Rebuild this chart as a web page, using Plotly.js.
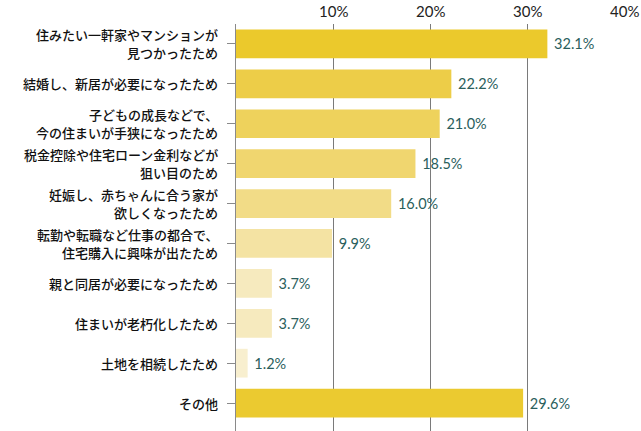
<!DOCTYPE html>
<html><head><meta charset="utf-8">
<script src="https://cdn.plot.ly/plotly-3.0.1.min.js"></script>
<style>html,body{margin:0;padding:0;background:#fff}#chart{width:641px;height:431px}</style>
</head><body><div id="chart"></div>
<script>
const categories = [
  "住みたい一軒家やマンションが<br>見つかったため",
  "結婚し、新居が必要になったため",
  "子どもの成長などで、<br>今の住まいが手狭になったため",
  "税金控除や住宅ローン金利などが<br>狙い目のため",
  "妊娠し、赤ちゃんに合う家が<br>欲しくなったため",
  "転勤や転職など仕事の都合で、<br>住宅購入に興味が出たため",
  "親と同居が必要になったため",
  "住まいが老朽化したため",
  "土地を相続したため",
  "その他"
];
const values = [32.1, 22.2, 21.0, 18.5, 16.0, 9.9, 3.7, 3.7, 1.2, 29.6];
const barColors = ["#EBC92C","#EDCD48","#EED25C","#F0D66F","#F2DC87","#F4E3A3","#F6EABE","#F6EABE","#F8EFCF","#EBCA30"];
const tickVals = [10, 20, 30, 40];
const tickText = ["10%", "20%", "30%", "40%"];

const trace = {
  type: "bar",
  orientation: "h",
  y: categories,
  x: values,
  marker: {color: barColors},
  text: values.map(v => " " + v.toFixed(1) + "%"),
  textposition: "outside",
  cliponaxis: false,
  textfont: {family: "Lato, 'Noto Sans', sans-serif", size: 14.5, color: "#2A5E5C"},
  hoverinfo: "none"
};

// category labels drawn line by line so the line spacing can be set
const LINE_GAP = 18;
const annotations = [];
categories.forEach(cat => {
  const lines = cat.split("<br>");
  lines.forEach((ln, i) => {
    annotations.push({
      xref: "paper", yref: "y",
      x: 0, y: cat,
      xanchor: "right", yanchor: "middle",
      xshift: -16,
      yshift: ((lines.length - 1) / 2 - i) * LINE_GAP,
      text: ln,
      showarrow: false,
      font: {family: "'Noto Sans CJK JP', sans-serif", size: 13, weight: 500, color: "#111"}
    });
  });
});
// top axis labels placed on the x scale
tickVals.forEach((v, i) => {
  annotations.push({
    xref: "x", yref: "paper",
    x: v, y: 1,
    xanchor: "center", yanchor: "bottom",
    yshift: 2,
    text: tickText[i],
    showarrow: false,
    font: {family: "Lato, 'Noto Sans', sans-serif", size: 15, color: "#222"}
  });
});

const layout = {
  width: 641, height: 431,
  margin: {l: 236, r: 17, t: 24, b: 0},
  paper_bgcolor: "#fff", plot_bgcolor: "#fff",
  showlegend: false,
  bargap: 0.28,
  annotations: annotations,
  xaxis: {
    side: "top",
    range: [0, 40],
    tickvals: tickVals,
    ticktext: tickText,
    showticklabels: false,
    showgrid: true,
    gridcolor: "#7a7a7a",
    gridwidth: 1,
    zeroline: false,
    ticks: "",
    showline: false,
    fixedrange: true
  },
  yaxis: {
    type: "category",
    range: [9.7, -0.5],
    showline: true,
    linecolor: "#8a8a8a",
    linewidth: 1.5,
    ticks: "outside",
    ticklen: 8,
    tickcolor: "#8a8a8a",
    tickwidth: 1,
    showticklabels: false,
    showgrid: false,
    fixedrange: true
  }
};

Plotly.newPlot("chart", [trace], layout, {displayModeBar: false, staticPlot: true});
</script>
</body></html>
